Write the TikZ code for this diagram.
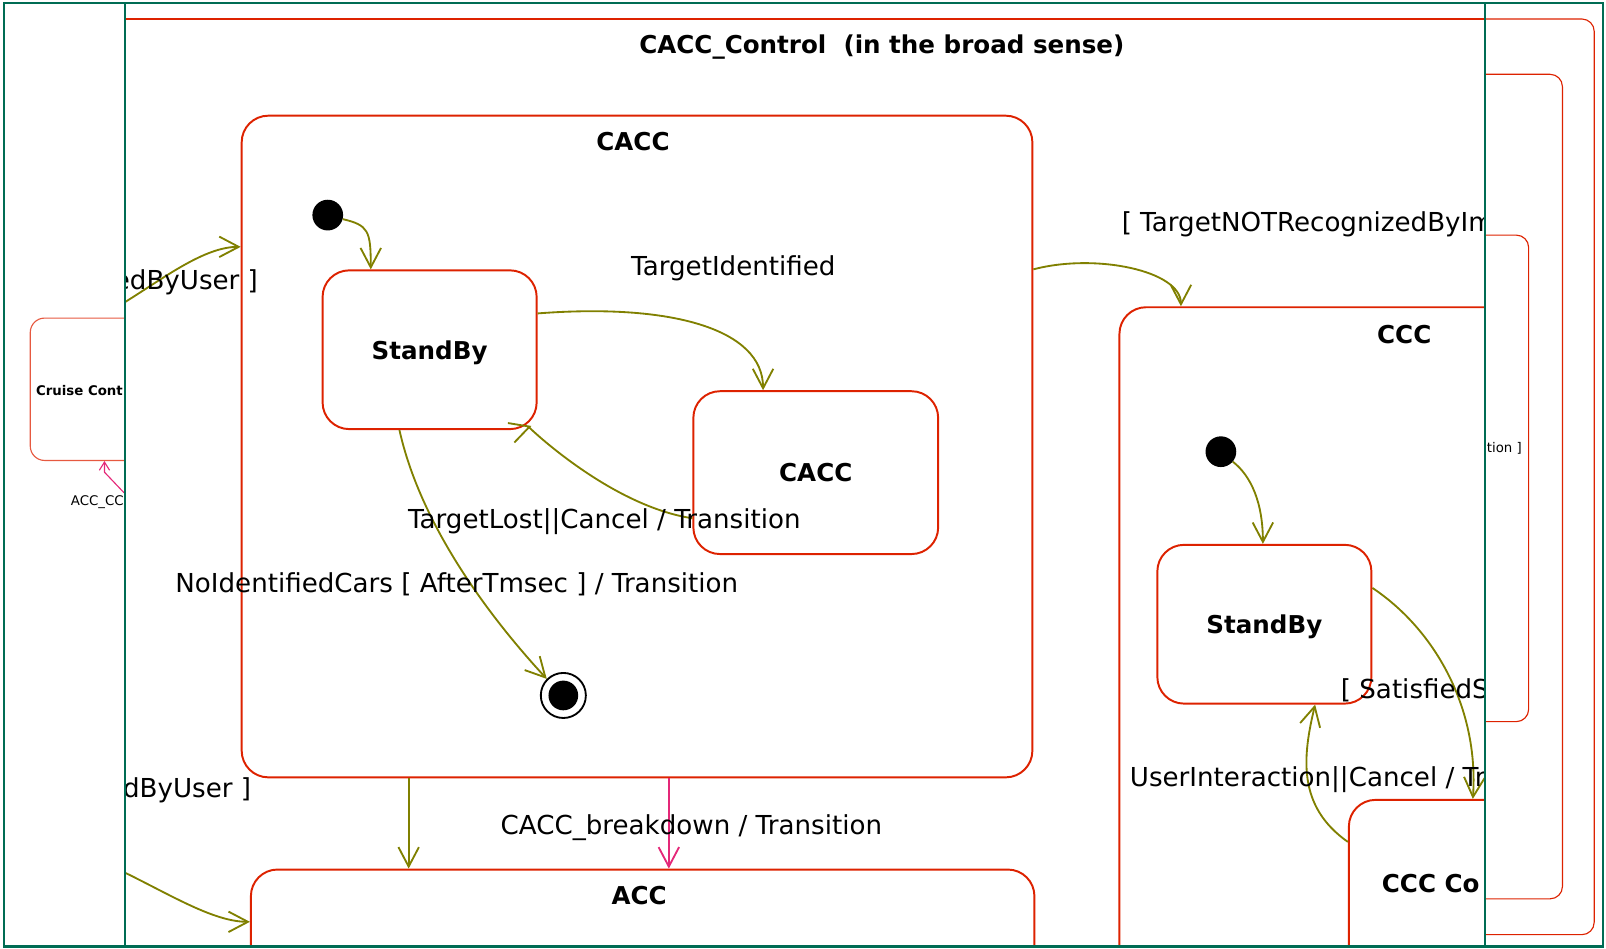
\documentclass[tikz,border=0pt]{standalone}
\usepackage{fontspec}
\setmainfont{DejaVu Sans}
\usepackage{tikz}
\usetikzlibrary{arrows.meta,calc}

\definecolor{framegreen}{RGB}{0,108,84}
\definecolor{statered}{RGB}{221,34,0}
\definecolor{trolive}{RGB}{128,128,0}
\definecolor{trpink}{RGB}{228,40,120}

\begin{document}
\begin{tikzpicture}[x=1pt, y=-1pt,
    state/.style={draw=statered, line width=1.9pt, rounded corners=26pt, anchor=north west, inner sep=0pt, font=\bfseries\fontsize{24}{28}\selectfont, text depth=0pt},
    mini/.style={draw=statered, line width=1.1pt, rounded corners=12pt, anchor=north east, inner sep=0pt},
    title/.style={font=\bfseries\fontsize{24}{28}\selectfont, inner sep=0pt, anchor=base},
    lbl/.style={font=\fontsize{25.5}{30}\selectfont, inner sep=0pt, anchor=base},
    small/.style={font=\fontsize{13}{15}\selectfont, inner sep=0pt, anchor=base west},
    trans/.style={draw=trolive, line width=1.8pt, -{Straight Barb[length=19pt, width=20pt]}},
    brk/.style={draw=trpink, line width=1.8pt, -{Straight Barb[length=19pt, width=20pt]}},
    init/.style={circle, fill=black, minimum size=30pt, inner sep=0pt}
  ]

\useasboundingbox (0,0) rectangle (1568,926);

% left strip
\begin{scope}
\clip (4,3) rectangle (122,924);
\node[draw=statered!75, line width=1.1pt, rounded corners=14pt, anchor=north west, minimum width=200pt, minimum height=139pt] (cruise) at (29,310) {};
\node[small, font=\bfseries\fontsize{13}{15}\selectfont] (cruiselbl) at (35,386) {Cruise Cont};
\coordinate (accin) at (121,481);
\draw[draw=trpink, line width=1.1pt, -{Straight Barb[length=8pt, width=10pt]}] (accin) -- ++(-19,-20) -- ($(cruise.south west)+(73,0)$);
\node[small] (acccc) at (69,494) {ACC\_CC};
\end{scope}

% right strip
\begin{scope}
\clip (1450,3) rectangle (1565,924);
\node[mini, minimum width=300pt, minimum height=894pt] (ctlmini) at (1557,18) {};
\node[mini, minimum width=300pt, minimum height=805pt] (midmini) at (1526,72) {};
\node[mini, minimum width=300pt, minimum height=475pt] (innmini) at (1493,229) {};
\node[small, anchor=base east] (tionlbl) at (1486,442) {tion ]};
\end{scope}

% main view
\begin{scope}
\clip (122,3) rectangle (1450,924);
\node[state, rounded corners=0pt, line width=2pt, minimum width=1500pt, minimum height=1000pt] (ctl) at (40,18) {};
\node[title] (ctltitle) at (861,52) {CACC\_Control\ \ (in the broad sense)};

\node[state, minimum width=772pt, minimum height=646pt] (cacc) at (235,112) {};
\node[title] (cacctitle) at (618,147) {CACC};
\node[init] (init1) at (320,210) {};
\node[state, minimum width=209pt, minimum height=155pt] (sb1) at (314,263) {StandBy};
\node[state, minimum width=239pt, minimum height=159pt] (cacc2) at (676,381) {CACC};
\node[circle, draw, line width=1.8pt, minimum size=44pt, inner sep=0pt,
      path picture={\fill (path picture bounding box.center) circle (14.5);}] (fin1) at (550,679) {};

\node[state, minimum width=765pt, minimum height=200pt] (acc) at (244,848) {};
\node[title] (acctitle) at (624,883) {ACC};

\node[state, minimum width=500pt, minimum height=700pt] (ccc) at (1092,299) {};
\node[title] (ccctitle) at (1371,335) {CCC};
\node[init] (init2) at (1192,441) {};
\node[state, minimum width=209pt, minimum height=155pt] (sb2) at (1129,531) {StandBy};
\node[state, minimum width=300pt, minimum height=300pt] (cccctl) at (1316,780) {};
\node[title, anchor=base west] (cccctltitle) at (1349,871) {CCC Co};

\coordinate (lftA) at (122,295);
\coordinate (lftB) at (122,852);
\draw[trans] (lftA) .. controls +(40,-25) and +(-35,0) .. ($(cacc.north west)+(0,129)$);
\draw[trans] (lftB) .. controls +(45,22) and +(-35,0) .. ($(acc.north west)+(0,52)$);

\draw[trans] (init1.-15) .. controls +(25,6) and +(0,-38) .. ($(sb1.north west)+(48,0)$);
\draw[trans] ($(sb1.north east)+(0,43)$) .. controls +(130,-10) and +(0,-60) .. ($(cacc2.north west)+(69,0)$);
\draw[trans] ($(cacc2.north west)+(0,125)$) .. controls +(-80,-12) and +(-3,1) .. ($(sb1.south east)+(-6,-4)$);
\draw[trans] ($(sb1.south west)+(76,0)$) .. controls +(20,90) and +(-60,-65) .. (fin1.135);
\draw[trans] ($(cacc.north east)+(0,151)$) .. controls +(60,-16) and +(0,-35) .. ($(ccc.north west)+(61,0)$);
\draw[trans] ($(cacc.south west)+(164,0)$) -- ($(acc.north west)+(155,0)$);
\draw[brk] ($(cacc.south west)+(418,0)$) -- ($(acc.north west)+(409,0)$);
\draw[trans] (init2.-40) .. controls +(18,14) and +(0,-40) .. ($(sb2.north west)+(104,0)$);
\draw[trans] ($(sb2.north east)+(0,43)$) .. controls +(60,40) and +(6,-90) .. ($(cccctl.north west)+(122,0)$);
\draw[trans] ($(cccctl.north west)+(0,42)$) .. controls +(-50,-35) and +(-12,50) .. ($(sb2.south west)+(155,0)$);

\node[lbl] (lbltid) at (716,269) {TargetIdentified};
\node[lbl] (lbltlost) at (590,516) {TargetLost||Cancel / Transition};
\node[lbl] (lblnoid) at (446,578) {NoIdentifiedCars [ AfterTmsec ] / Transition};
\node[lbl] (lblbrk) at (675,815) {CACC\_breakdown / Transition};
\node[lbl, anchor=base west] (lbltnot) at (1095,226) {[ TargetNOTRecognizedByIm};
\node[lbl, anchor=base west] (lblsat) at (1309,682) {[ SatisfiedSp};
\node[lbl, anchor=base west] (lbluser) at (1103,768) {UserInteraction||Cancel / Tr};
\node[lbl, anchor=base east] (lbluserA) at (252,283) {edByUser ]};
\node[lbl, anchor=base west] (lbluserB) at (120,779) {dByUser ]};
\end{scope}

\draw[framegreen, line width=2.6pt] (4,3) rectangle (1565,924);
\draw[framegreen, line width=2.6pt] (122,3) -- (122,924);
\draw[framegreen, line width=2.6pt] (1450,3) -- (1450,924);
\end{tikzpicture}
\end{document}
